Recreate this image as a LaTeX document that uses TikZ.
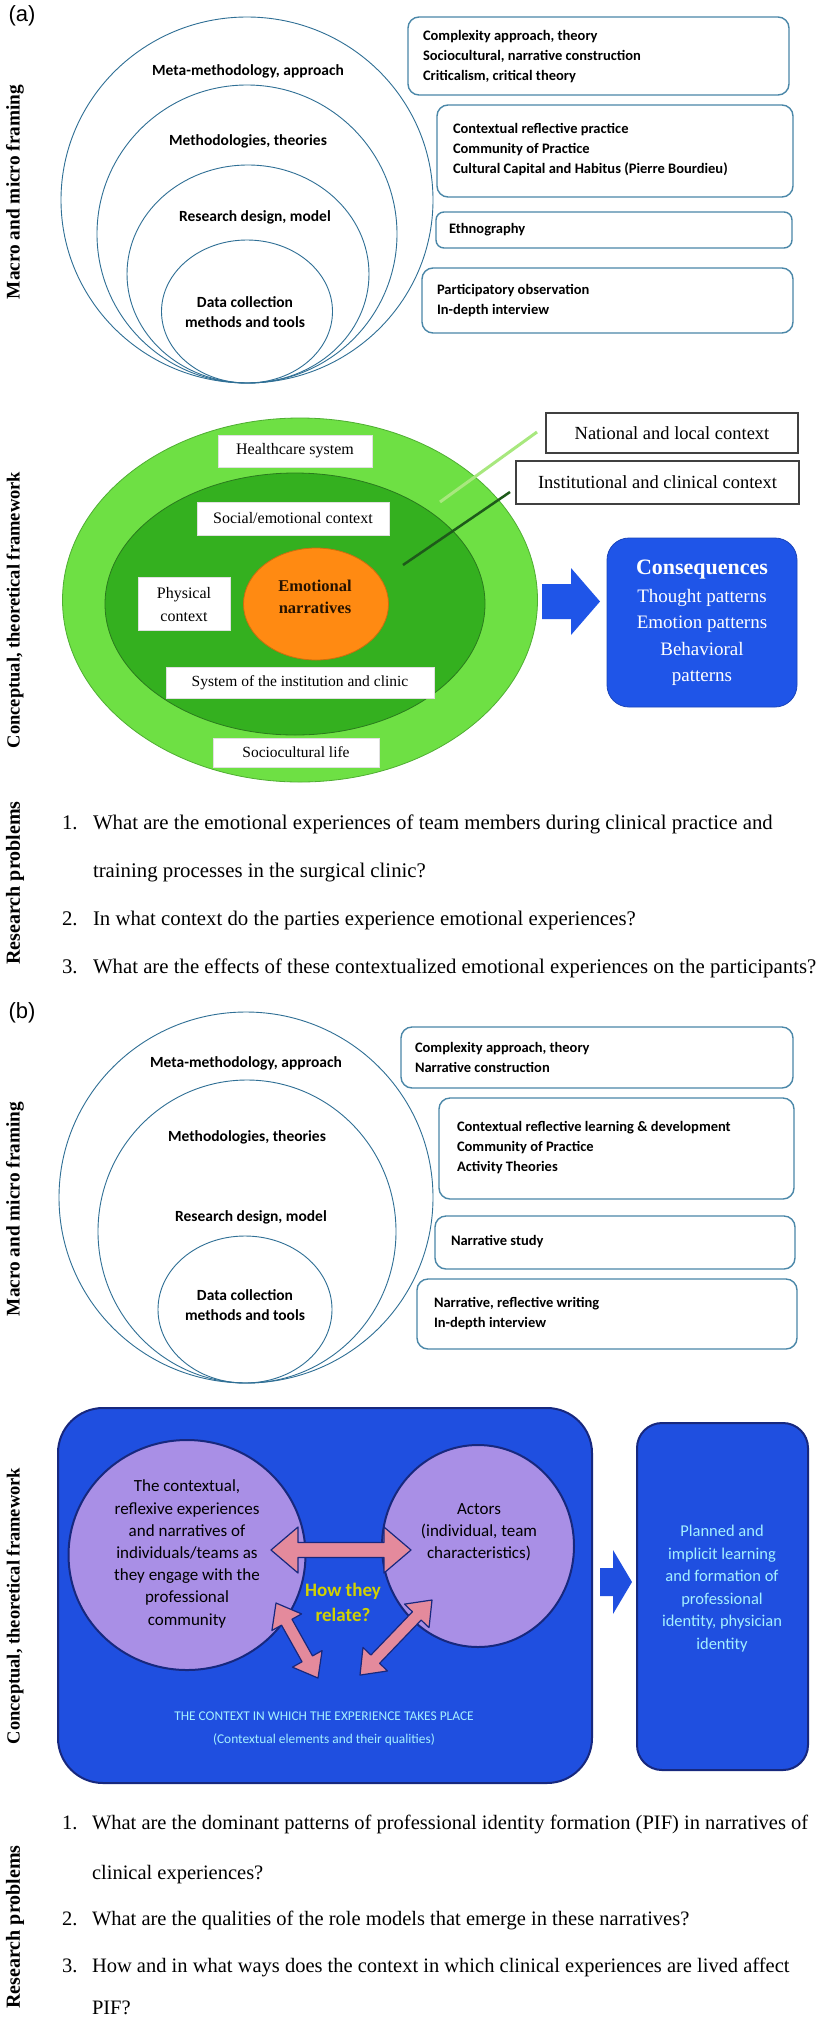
\documentclass[tikz,border=0pt]{standalone}
\usepackage{fontspec}
\setmainfont{Liberation Serif}
\newfontfamily\calfont{Carlito}
\newfontfamily\sansfnt{Liberation Sans}
\usetikzlibrary{shapes.geometric}
\definecolor{circblue}{HTML}{2F6F95}
\definecolor{boxblue}{HTML}{4A87A8}
\definecolor{lgreen}{HTML}{6EE044}
\definecolor{lgreenb}{HTML}{4FAE32}
\definecolor{dgreen}{HTML}{34B01F}
\definecolor{dgreenb}{HTML}{2A7A1E}
\definecolor{orng}{HTML}{FF8A12}
\definecolor{vblue}{HTML}{1F55E8}
\definecolor{bblue}{HTML}{1F4FE0}
\definecolor{navy}{HTML}{17287E}
\definecolor{lav}{HTML}{A98FE6}
\definecolor{pinkar}{HTML}{E48A9C}
\definecolor{ylw}{HTML}{D2D200}
\definecolor{cyantx}{HTML}{A4F0FF}
\definecolor{lline}{HTML}{A8E87E}
\definecolor{dline}{HTML}{1E5A1A}
\begin{document}
\begin{tikzpicture}[x=1pt,y=-1pt,
  every node/.style={inner sep=0pt, outer sep=0pt},
  circ/.style={ellipse, draw=circblue, line width=0.9pt},
  ctext/.style={font=\calfont\bfseries\fontsize{15.5}{20}\selectfont, align=center},
  rbox/.style={rectangle, draw=boxblue, line width=1.4pt, rounded corners=11pt},
  btext/.style={font=\calfont\bfseries\fontsize{14.5}{20}\selectfont, align=left, anchor=west},
  side/.style={font=\bfseries\fontsize{19.3}{24}\selectfont, rotate=90},
  sidec/.style={side, font=\bfseries\fontsize{18.5}{24}\selectfont},
  sider/.style={side, font=\bfseries\fontsize{20}{24}\selectfont},
  plab/.style={font=\sansfnt\fontsize{22}{26}\selectfont},
  wbox/.style={rectangle, fill=white, draw=black!12, line width=0.5pt},
  wtext/.style={font=\fontsize{16}{23}\selectfont, align=center},
  q/.style={font=\fontsize{20.8}{24}\selectfont, anchor=base west},
  qb/.style={font=\fontsize{20.5}{24}\selectfont, anchor=base west},
  lbox/.style={rectangle, draw=black!75, line width=1.3pt, fill=white},
  ltext/.style={font=\fontsize{18.5}{22}\selectfont},
  parrow/.style={fill=pinkar, draw=navy, line width=1.2pt, line join=round},
  ]
\useasboundingbox (0,0) rectangle (822,2024);
\fill[white] (0,0) rectangle (822,2024);

% ================= (a) =================
\node[plab] (la) at (22,16) {(a)};
\node[side] (sa1) at (15,192) {Macro and micro framing};

\node[circ, minimum width=372pt, minimum height=366pt] (ca1) at (247,200) {};
\node[circ, minimum width=300pt, minimum height=298pt] (ca2) at (247,234) {};
\node[circ, minimum width=242pt, minimum height=218pt] (ca3) at (248,274) {};
\node[circ, minimum width=171pt, minimum height=143pt] (ca4) at (247,311.5) {};
\node[ctext] (ta1) at (248,71) {Meta-methodology, approach};
\node[ctext] (ta2) at (248,141) {Methodologies, theories};
\node[ctext] (ta3) at (255,217) {Research design, model};
\node[ctext] (ta4) at (245,312) {Data collection\\methods and tools};

\node[rbox, minimum width=381pt, minimum height=78pt] (ba1) at (598.5,56) {};
\node[btext] (bta1) at (423,57) {Complexity approach, theory\\Sociocultural, narrative construction\\Criticalism, critical theory};
\node[rbox, minimum width=356pt, minimum height=92pt] (ba2) at (615,151) {};
\node[btext] (bta2) at (453,150) {Contextual reflective practice\\Community of Practice\\Cultural Capital and Habitus (Pierre Bourdieu)};
\node[rbox, minimum width=356pt, minimum height=36pt, rounded corners=8pt] (ba3) at (614,230) {};
\node[btext] (bta3) at (449,230) {Ethnography};
\node[rbox, minimum width=371pt, minimum height=65pt] (ba4) at (607.5,300.5) {};
\node[btext] (bta4) at (437,301) {Participatory observation\\In-depth interview};

% conceptual (a)
\node[sidec] (sa2) at (15,610) {Conceptual, theoretical framework};
\node[ellipse, fill=lgreen, draw=lgreenb, line width=0.8pt, minimum width=475pt, minimum height=364pt] (ga) at (300,600) {};
\node[ellipse, fill=dgreen, draw=dgreenb, line width=0.8pt, minimum width=380pt, minimum height=262pt] (gb) at (295,604) {};
\node[ellipse, fill=orng, draw=orng!80!black, line width=0.8pt, minimum width=145pt, minimum height=112pt] (emo) at (316,604) {};
\node[font=\bfseries\fontsize{16.5}{22}\selectfont, align=center, text=black!85!orange] (emot) at (315,597) {Emotional\\narratives};

\node[wbox, minimum width=154pt, minimum height=32pt] (hc) at (295,451) {};
\node[wtext] (hct) at (295,451) {Healthcare system};
\node[wbox, minimum width=192pt, minimum height=33pt] (se) at (293,518.5) {};
\node[wtext] (set) at (293,518.5) {Social/emotional context};
\node[wbox, minimum width=92pt, minimum height=53pt] (ph) at (184,603.5) {};
\node[wtext] (pht) at (184,605) {Physical\\context};
\node[wbox, minimum width=268pt, minimum height=31pt] (sy) at (300,682.5) {};
\node[wtext, font=\fontsize{15.5}{20}\selectfont] (syt) at (300,682.5) {System of the institution and clinic};
\node[wbox, minimum width=166pt, minimum height=29pt] (sc) at (296,752.5) {};
\node[wtext, font=\fontsize{15.5}{20}\selectfont] (sct) at (296,752.5) {Sociocultural life};

\node[lbox, minimum width=252pt, minimum height=40pt] (nl) at (672,433) {};
\node[ltext] (nlt) at (672,433) {National and local context};
\node[lbox, minimum width=283pt, minimum height=43pt] (ic) at (657.5,482.5) {};
\node[ltext] (ict) at (657.5,482.5) {Institutional and clinical context};
\coordinate (l1a) at (440,502);
\coordinate (l1b) at (537,432);
\coordinate (l2a) at (403,565);
\coordinate (l2b) at (510,492);
\draw[lline, line width=3pt] (l1a) -- (l1b);
\draw[dline, line width=2.5pt] (l2a) -- (l2b);

\fill[vblue] (542,584) -- (571,584) -- (571,568) -- (600,601.5) -- (571,635) -- (571,619) -- (542,619) -- cycle;
\node[rectangle, rounded corners=22pt, fill=vblue, draw=vblue!80!black, line width=0.8pt, minimum width=190pt, minimum height=169pt] (cons) at (702,622.5) {};
\node[font=\bfseries\fontsize{22}{26}\selectfont, text=white] (const) at (702,570) {Consequences};
\node[font=\fontsize{19}{26.3}\selectfont, text=white, align=center] (consl) at (702,637.5) {Thought patterns\\Emotion patterns\\Behavioral\\patterns};

% research problems (a)
\node[sider] (sa3) at (15,883) {Research problems};
\node[q] (qa1n) at (62,829) {1.};
\node[q] (qa1) at (93,829) {What are the emotional experiences of team members during clinical practice and};
\node[q] (qa1b) at (93,877) {training processes in the surgical clinic?};
\node[q] (qa2n) at (62,925) {2.};
\node[q] (qa2) at (93,925) {In what context do the parties experience emotional experiences?};
\node[q] (qa3n) at (62,973) {3.};
\node[q] (qa3) at (93,973) {What are the effects of these contextualized emotional experiences on the participants?};

% ================= (b) =================
\node[plab] (lb) at (22,1013) {(b)};
\node[side] (sb1) at (15,1209) {Macro and micro framing};

\node[circ, minimum width=374pt, minimum height=371pt] (cb1) at (246,1197.5) {};
\node[circ, minimum width=298pt, minimum height=303pt] (cb2) at (247,1231.5) {};
\node[circ, minimum width=174pt, minimum height=147pt] (cb3) at (245,1309.5) {};
\node[ctext] (tb1) at (246,1063) {Meta-methodology, approach};
\node[ctext] (tb2) at (247,1137) {Methodologies, theories};
\node[ctext] (tb3) at (251,1217) {Research design, model};
\node[ctext] (tb4) at (245,1305) {Data collection\\methods and tools};

\node[rbox, minimum width=392pt, minimum height=61pt] (bb1) at (597,1057.5) {};
\node[btext] (btb1) at (415,1057) {Complexity approach, theory\\Narrative construction};
\node[rbox, minimum width=355pt, minimum height=101pt] (bb2) at (616.5,1148.5) {};
\node[btext] (btb2) at (457,1148) {Contextual reflective learning \& development\\Community of Practice\\Activity Theories};
\node[rbox, minimum width=360pt, minimum height=53pt] (bb3) at (615,1242.5) {};
\node[btext] (btb3) at (451,1242) {Narrative study};
\node[rbox, minimum width=380pt, minimum height=70pt] (bb4) at (607,1314) {};
\node[btext] (btb4) at (434,1314) {Narrative, reflective writing\\In-depth interview};

% conceptual (b)
\node[sidec] (sb2) at (15,1606) {Conceptual, theoretical framework};
\node[rectangle, rounded corners=45pt, fill=bblue, draw=navy, line width=2pt, minimum width=534pt, minimum height=375pt] (ctx) at (325,1595.5) {};
\node[ellipse, fill=lav, draw=navy, line width=2pt, minimum width=237pt, minimum height=230pt] (exp) at (187,1555) {};
\node[ellipse, fill=lav, draw=navy, line width=2pt, minimum width=192pt, minimum height=202pt] (act) at (478,1546) {};
\node[font=\calfont\fontsize{17}{22.2}\selectfont, align=center] (expt) at (187,1554) {The contextual,\\reflexive experiences\\and narratives of\\individuals/teams as\\they engage with the\\professional\\community};
\node[font=\calfont\fontsize{17}{22.2}\selectfont, align=center] (actt) at (479,1532) {Actors\\(individual, team\\characteristics)};

\draw[parrow] (271,1550) -- (298,1527) -- (298,1542.5) -- (384,1542.5) -- (384,1527) -- (411,1550) -- (384,1573) -- (384,1557.5) -- (298,1557.5) -- (298,1573) -- cycle;
\draw[parrow, shift={(276,1603)}, rotate=-60.75] (0,0) -- (22,17) -- (22,6) -- (64,6) -- (64,17) -- (86,0) -- (64,-17) -- (64,-6) -- (22,-6) -- (22,-17) -- cycle;
\draw[parrow, shift={(432,1600)}, rotate=-133.8] (0,0) -- (22,17) -- (22,6) -- (82,6) -- (82,17) -- (104,0) -- (82,-17) -- (82,-6) -- (22,-6) -- (22,-17) -- cycle;

\node[font=\calfont\bfseries\fontsize{19}{25}\selectfont, text=ylw, align=center] (how) at (343,1602) {How they\\relate?};
\node[font=\calfont\fontsize{13.4}{23}\selectfont, text=cyantx, align=center] (ctxt) at (324,1728.5) {THE CONTEXT IN WHICH THE EXPERIENCE TAKES PLACE\\(Contextual elements and their qualities)};

\fill[bblue] (600,1568) -- (613,1568) -- (613,1550) -- (632,1582) -- (613,1614) -- (613,1596) -- (600,1596) -- cycle;
\node[rectangle, rounded corners=25pt, fill=bblue, draw=navy, line width=2pt, minimum width=171pt, minimum height=347pt] (pl) at (722.5,1596.5) {};
\node[font=\calfont\fontsize{16.5}{22.6}\selectfont, text=cyantx, align=center] (plt) at (722,1588.5) {Planned and\\implicit learning\\and formation of\\professional\\identity, physician\\identity};

% research problems (b)
\node[sider] (sb3) at (15,1927) {Research problems};
\node[qb] (qb1n) at (62,1829) {1.};
\node[qb] (qb1) at (92,1829) {What are the dominant patterns of professional identity formation (PIF) in narratives of};
\node[qb] (qb1b) at (92,1879) {clinical experiences?};
\node[qb] (qb2n) at (62,1925) {2.};
\node[qb] (qb2) at (92,1925) {What are the qualities of the role models that emerge in these narratives?};
\node[qb] (qb3n) at (62,1972) {3.};
\node[qb] (qb3) at (92,1972) {How and in what ways does the context in which clinical experiences are lived affect};
\node[qb] (qb3b) at (92,2014) {PIF?};
\end{tikzpicture}
\end{document}
